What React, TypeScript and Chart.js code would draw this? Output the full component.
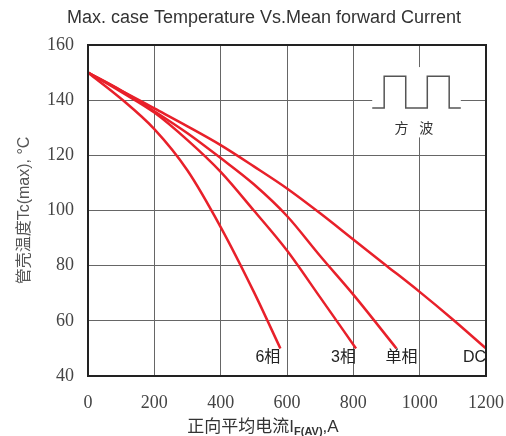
import { useEffect, useRef } from "react";
import { Chart, registerables } from "chart.js";

Chart.register(...registerables);

// Axis ticks: mean forward current (A) and max case temperature (°C)
const currentTicks = [0, 200, 400, 600, 800, 1000, 1200];
const tempTicks = [40, 60, 80, 100, 120, 140, 160];

// Derating curves for each rectifier connection
const dcCurrent = [0, 100, 200, 300, 400, 500, 600, 700, 800, 900, 1000, 1100, 1200];
const dcTemp = [150, 143.5, 137, 130.5, 123.7, 116, 108, 99, 89.5, 80, 70.5, 60.5, 50];

const singleCurrent = [0, 100, 200, 300, 400, 500, 600, 700, 800, 930];
const singleTemp = [150, 143.5, 136, 128, 119, 109.5, 98, 83.5, 69.5, 50];

const threeCurrent = [0, 100, 200, 300, 400, 500, 600, 700, 808];
const threeTemp = [150, 143, 135.5, 125.5, 114, 100, 85.5, 68.5, 50];

const sixCurrent = [0, 100, 200, 300, 400, 500, 580];
const sixTemp = [150, 140.5, 129.5, 114.5, 94, 70.5, 50];

const curveNames = ["DC", "单相", "3相", "6相"];

const RED = "#e8202a";
const SANS = '"Liberation Sans", Arial, "Noto Sans CJK SC", sans-serif';
const SERIF = '"Liberation Serif", "Times New Roman", serif';

const toPoints = (xs: number[], ys: number[]) => xs.map((x, i) => ({ x, y: ys[i] }));

// Frame, square-wave inset, curve labels and axis titles
const decorations = {
  id: "decorations",
  afterDatasetsDraw(chart: any) {
    const { ctx, chartArea, scales } = chart;
    const xs = scales.x;
    const ys = scales.y;
    ctx.save();

    // square-wave inset on a white patch
    const bx0 = xs.getPixelForValue(857);
    const bx1 = xs.getPixelForValue(1124);
    const by0 = ys.getPixelForValue(152);
    const by1 = ys.getPixelForValue(126.5);
    ctx.fillStyle = "#fff";
    ctx.fillRect(bx0, by0, bx1 - bx0, by1 - by0);
    const lo = ys.getPixelForValue(137.2);
    const hi = ys.getPixelForValue(148.7);
    const edges = [857, 893, 958, 1023, 1089, 1124].map((v) => xs.getPixelForValue(v));
    ctx.strokeStyle = "#555";
    ctx.lineWidth = 1.5;
    ctx.beginPath();
    ctx.moveTo(edges[0], lo);
    ctx.lineTo(edges[1], lo);
    ctx.lineTo(edges[1], hi);
    ctx.lineTo(edges[2], hi);
    ctx.lineTo(edges[2], lo);
    ctx.lineTo(edges[3], lo);
    ctx.lineTo(edges[3], hi);
    ctx.lineTo(edges[4], hi);
    ctx.lineTo(edges[4], lo);
    ctx.lineTo(edges[5], lo);
    ctx.stroke();
    ctx.fillStyle = "#333";
    ctx.font = '14px "Noto Sans CJK SC", serif';
    ctx.textAlign = "center";
    ctx.textBaseline = "middle";
    const ty = ys.getPixelForValue(130.2);
    ctx.fillText("方", xs.getPixelForValue(945), ty);
    ctx.fillText("波", xs.getPixelForValue(1020), ty);

    // frame
    ctx.strokeStyle = "#222";
    ctx.lineWidth = 2;
    ctx.strokeRect(chartArea.left, chartArea.top, chartArea.right - chartArea.left, chartArea.bottom - chartArea.top);

    // curve labels at the end of each curve
    const nudges = [0, 21, 0, 0];
    ctx.fillStyle = "#222";
    ctx.font = "16px " + SANS;
    ctx.textAlign = "right";
    ctx.textBaseline = "middle";
    chart.data.datasets.forEach((ds: any, i: number) => {
      const last = ds.data[ds.data.length - 1];
      const px = xs.getPixelForValue(last.x) + nudges[i];
      const py = ys.getPixelForValue(last.y) + 9;
      ctx.fillText(curveNames[i], Math.min(px, chartArea.right + 1), py);
    });

    // chart title
    ctx.fillStyle = "#333";
    ctx.font = "18px " + SANS;
    ctx.textAlign = "center";
    ctx.fillText("Max. case Temperature Vs.Mean forward Current", 264, 18);

    // y-axis title
    ctx.save();
    ctx.translate(25, (chartArea.top + chartArea.bottom) / 2);
    ctx.rotate(-Math.PI / 2);
    ctx.fillStyle = "#555";
    ctx.font = "16px " + SANS;
    ctx.fillText("管壳温度Tc(max), °C", 0, 0);
    ctx.restore();

    // x-axis title with subscript
    const mainFont = "17px " + SANS;
    const subFont = "bold 11px " + SANS;
    const parts = [
      { t: "正向平均电流I", f: mainFont, dy: 0 },
      { t: "F(AV)", f: subFont, dy: 5 },
      { t: ",A", f: mainFont, dy: 0 },
    ];
    let total = 0;
    parts.forEach((p) => {
      ctx.font = p.f;
      total += ctx.measureText(p.t).width;
    });
    let cx = 263 - total / 2;
    ctx.textAlign = "left";
    ctx.fillStyle = "#333";
    parts.forEach((p) => {
      ctx.font = p.f;
      ctx.fillText(p.t, cx, 427 + p.dy);
      cx += ctx.measureText(p.t).width;
    });
    ctx.restore();
  },
};

export default function App() {
  const canvasRef = useRef<HTMLCanvasElement | null>(null);

  useEffect(() => {
    const canvas = canvasRef.current;
    if (!canvas) return;
    const series = [
      toPoints(dcCurrent, dcTemp),
      toPoints(singleCurrent, singleTemp),
      toPoints(threeCurrent, threeTemp),
      toPoints(sixCurrent, sixTemp),
    ];
    const chart = new Chart(canvas, {
      type: "line",
      data: {
        datasets: series.map((data, i) => ({
          label: curveNames[i],
          data,
          borderColor: RED,
          borderWidth: 2.5,
          pointRadius: 0,
          cubicInterpolationMode: "monotone",
          fill: false,
        })),
      },
      options: {
        animation: false,
        responsive: false,
        events: [],
        layout: { autoPadding: false, padding: { top: 45, right: 20, left: 0, bottom: 0 } },
        plugins: {
          legend: { display: false },
          title: { display: false },
          tooltip: { enabled: false },
        },
        scales: {
          x: {
            type: "linear",
            min: 0,
            max: 1200,
            afterBuildTicks: (s: any) => {
              s.ticks = currentTicks.map((value) => ({ value }));
            },
            afterFit: (s: any) => {
              s.height = 60;
              s.paddingLeft = 0;
              s.paddingRight = 0;
            },
            ticks: {
              padding: 16,
              color: "#444",
              font: { family: SERIF, size: 18 },
              maxRotation: 0,
              callback: (v: any) => String(v),
            },
            grid: { color: "#666", lineWidth: 1, drawTicks: false },
            border: { display: false },
          },
          y: {
            min: 40,
            max: 160,
            afterBuildTicks: (s: any) => {
              s.ticks = tempTicks.map((value) => ({ value }));
            },
            afterFit: (s: any) => {
              s.width = 88;
              s.paddingTop = 0;
              s.paddingBottom = 0;
            },
            ticks: {
              padding: 14,
              color: "#444",
              font: { family: SERIF, size: 18 },
              callback: (v: any) => String(v),
            },
            grid: { color: "#666", lineWidth: 1, drawTicks: false },
            border: { display: false },
          },
        },
      },
      plugins: [decorations],
    });
    return () => chart.destroy();
  }, []);

  return (
    <div style={{ position: "absolute", left: 0, top: 0, width: 506, height: 436, background: "#fff" }}>
      <canvas ref={canvasRef} width={506} height={436} style={{ display: "block" }} />
    </div>
  );
}
